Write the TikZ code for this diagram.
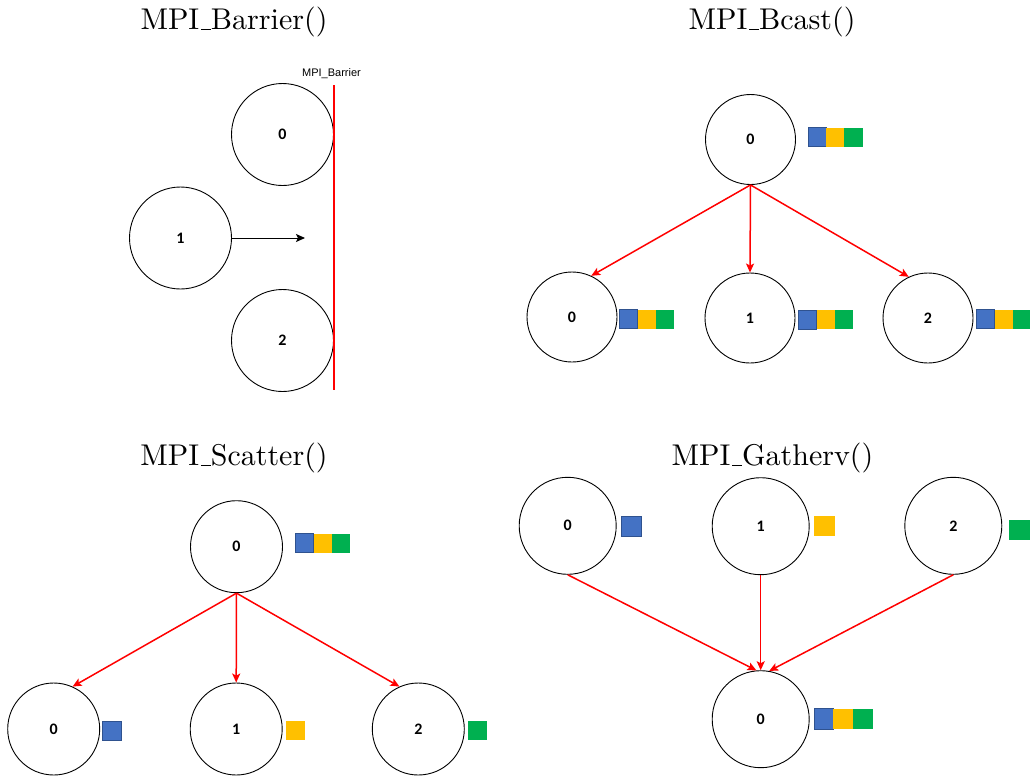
\documentclass[tikz,border=0pt]{standalone}
\usepackage{fontspec}
\setmainfont{Latin Modern Roman}
\newfontfamily\ttlfont{lmroman10-regular.otf}
\newfontfamily\digitfont{Carlito}
\newfontfamily\labelfont{Liberation Sans}
\usetikzlibrary{arrows.meta}
\definecolor{sqblue}{HTML}{4472C4}
\definecolor{sqblueline}{HTML}{2F528F}
\definecolor{sqyellow}{HTML}{FFC000}
\definecolor{sqgreen}{HTML}{00B050}
\definecolor{barred}{HTML}{FF0000}
\newcommand{\ttlus}{\kern.06em\vbox{\hrule width.33em height 0.8pt}}
\tikzset{
  proc/.style={circle, draw=black, line width=0.9pt, inner sep=0pt, minimum size=#1, font=\digitfont\fontsize{16}{18}\selectfont\bfseries},
  ttl/.style={anchor=base, font=\ttlfont\fontsize{30}{36}\selectfont},
  redarrow/.style={draw=barred, line width=1.5pt, -{Stealth[length=9pt,width=8pt,inset=2pt]}},
  blackarrow/.style={draw=black, line width=1pt, -{Stealth[length=9pt,width=8pt,inset=2pt]}},
  barline/.style={draw=barred, line width=2pt},
  bsq/.style={fill=sqblue, draw=sqblueline, line width=0.6pt},
  ysq/.style={fill=sqyellow},
  gsq/.style={fill=sqgreen},
}
\newcommand{\trio}[2]{% x, y of top-left corner
  \path[bsq] (#1,#2) rectangle ++(18,19);
  \path[ysq] (#1+18,#2) rectangle ++(18,19);
  \path[gsq] (#1+36,#2) rectangle ++(18.5,19);
}
\begin{document}
\begin{tikzpicture}[x=1pt,y=-1pt]
\useasboundingbox (0,0) rectangle (1030,776);

% ---------- MPI_Barrier ----------
\node[ttl] (tbar) at (234,30) {MPI\ttlus Barrier()};
\node[anchor=base, font=\labelfont\fontsize{11}{13}\selectfont] (lbar) at (331.5,76) {MPI\_Barrier};
\node[proc=102pt] (b0) at (282.5,134.5) {0};
\node[proc=102pt] (b1) at (180.5,238) {1};
\node[proc=102pt] (b2) at (282.5,340.5) {2};
\coordinate (bartop) at (333.5,85);
\coordinate (barbot) at (333.5,390);
\path[barline] (bartop) -- (barbot);
\coordinate (barr) at (305,238);
\draw[blackarrow] (b1.east) -- (barr);

% ---------- MPI_Bcast ----------
\node[ttl] (tbc) at (772,30) {MPI\ttlus Bcast()};
\node[proc=90pt] (c) at (750.5,139.5) {0};
\node[proc=90pt] (c0) at (572,317) {0};
\node[proc=90pt] (c1) at (750,318) {1};
\node[proc=90pt] (c2) at (928,318) {2};
\trio{808}{127.5}
\trio{619.5}{309.5}
\trio{798.5}{310}
\trio{976.5}{309.5}
\draw[redarrow] (c.south) -- (c0.65);
\draw[redarrow] (c.south) -- (c1.north);
\draw[redarrow] (c.south) -- (c2.115);

% ---------- MPI_Scatter ----------
\node[ttl] (tsc) at (234,465.5) {MPI\ttlus Scatter()};
\node[proc=92pt] (s) at (236.5,546.7) {0};
\node[proc=92pt] (s0) at (53.7,729) {0};
\node[proc=92pt] (s1) at (236.2,729) {1};
\node[proc=92pt] (s2) at (418.3,729) {2};
\trio{295.5}{533.5}
\path[bsq] (102,721) rectangle ++(19,19);
\path[ysq] (286,721) rectangle ++(19,19);
\path[gsq] (467.5,721) rectangle ++(19.5,19);
\draw[redarrow] (s.south) -- (s0.66);
\draw[redarrow] (s.south) -- (s1.north);
\draw[redarrow] (s.south) -- (s2.114);

% ---------- MPI_Gatherv ----------
\node[ttl] (tga) at (772.5,465.5) {MPI\ttlus Gatherv()};
\node[proc=97pt] (g0) at (567.7,525.8) {0};
\node[proc=97pt] (g1) at (760.7,526.2) {1};
\node[proc=97pt] (g2) at (953.3,525.8) {2};
\node[proc=97pt] (g) at (760.7,719.2) {0};
\path[bsq] (621,516) rectangle ++(20,20.5);
\path[ysq] (814,515.5) rectangle ++(20.5,20.5);
\path[gsq] (1009,519.5) rectangle ++(21,20);
\path[bsq] (814,708.5) rectangle ++(19,20.5);
\path[ysq] (833,708.5) rectangle ++(19.5,20.5);
\path[gsq] (852.5,708.5) rectangle ++(20,20.5);
\draw[redarrow] (g0.south) -- (g.95);
\draw[redarrow] (g1.south) -- (g.north);
\draw[redarrow] (g2.south) -- (g.80);
\end{tikzpicture}
\end{document}
